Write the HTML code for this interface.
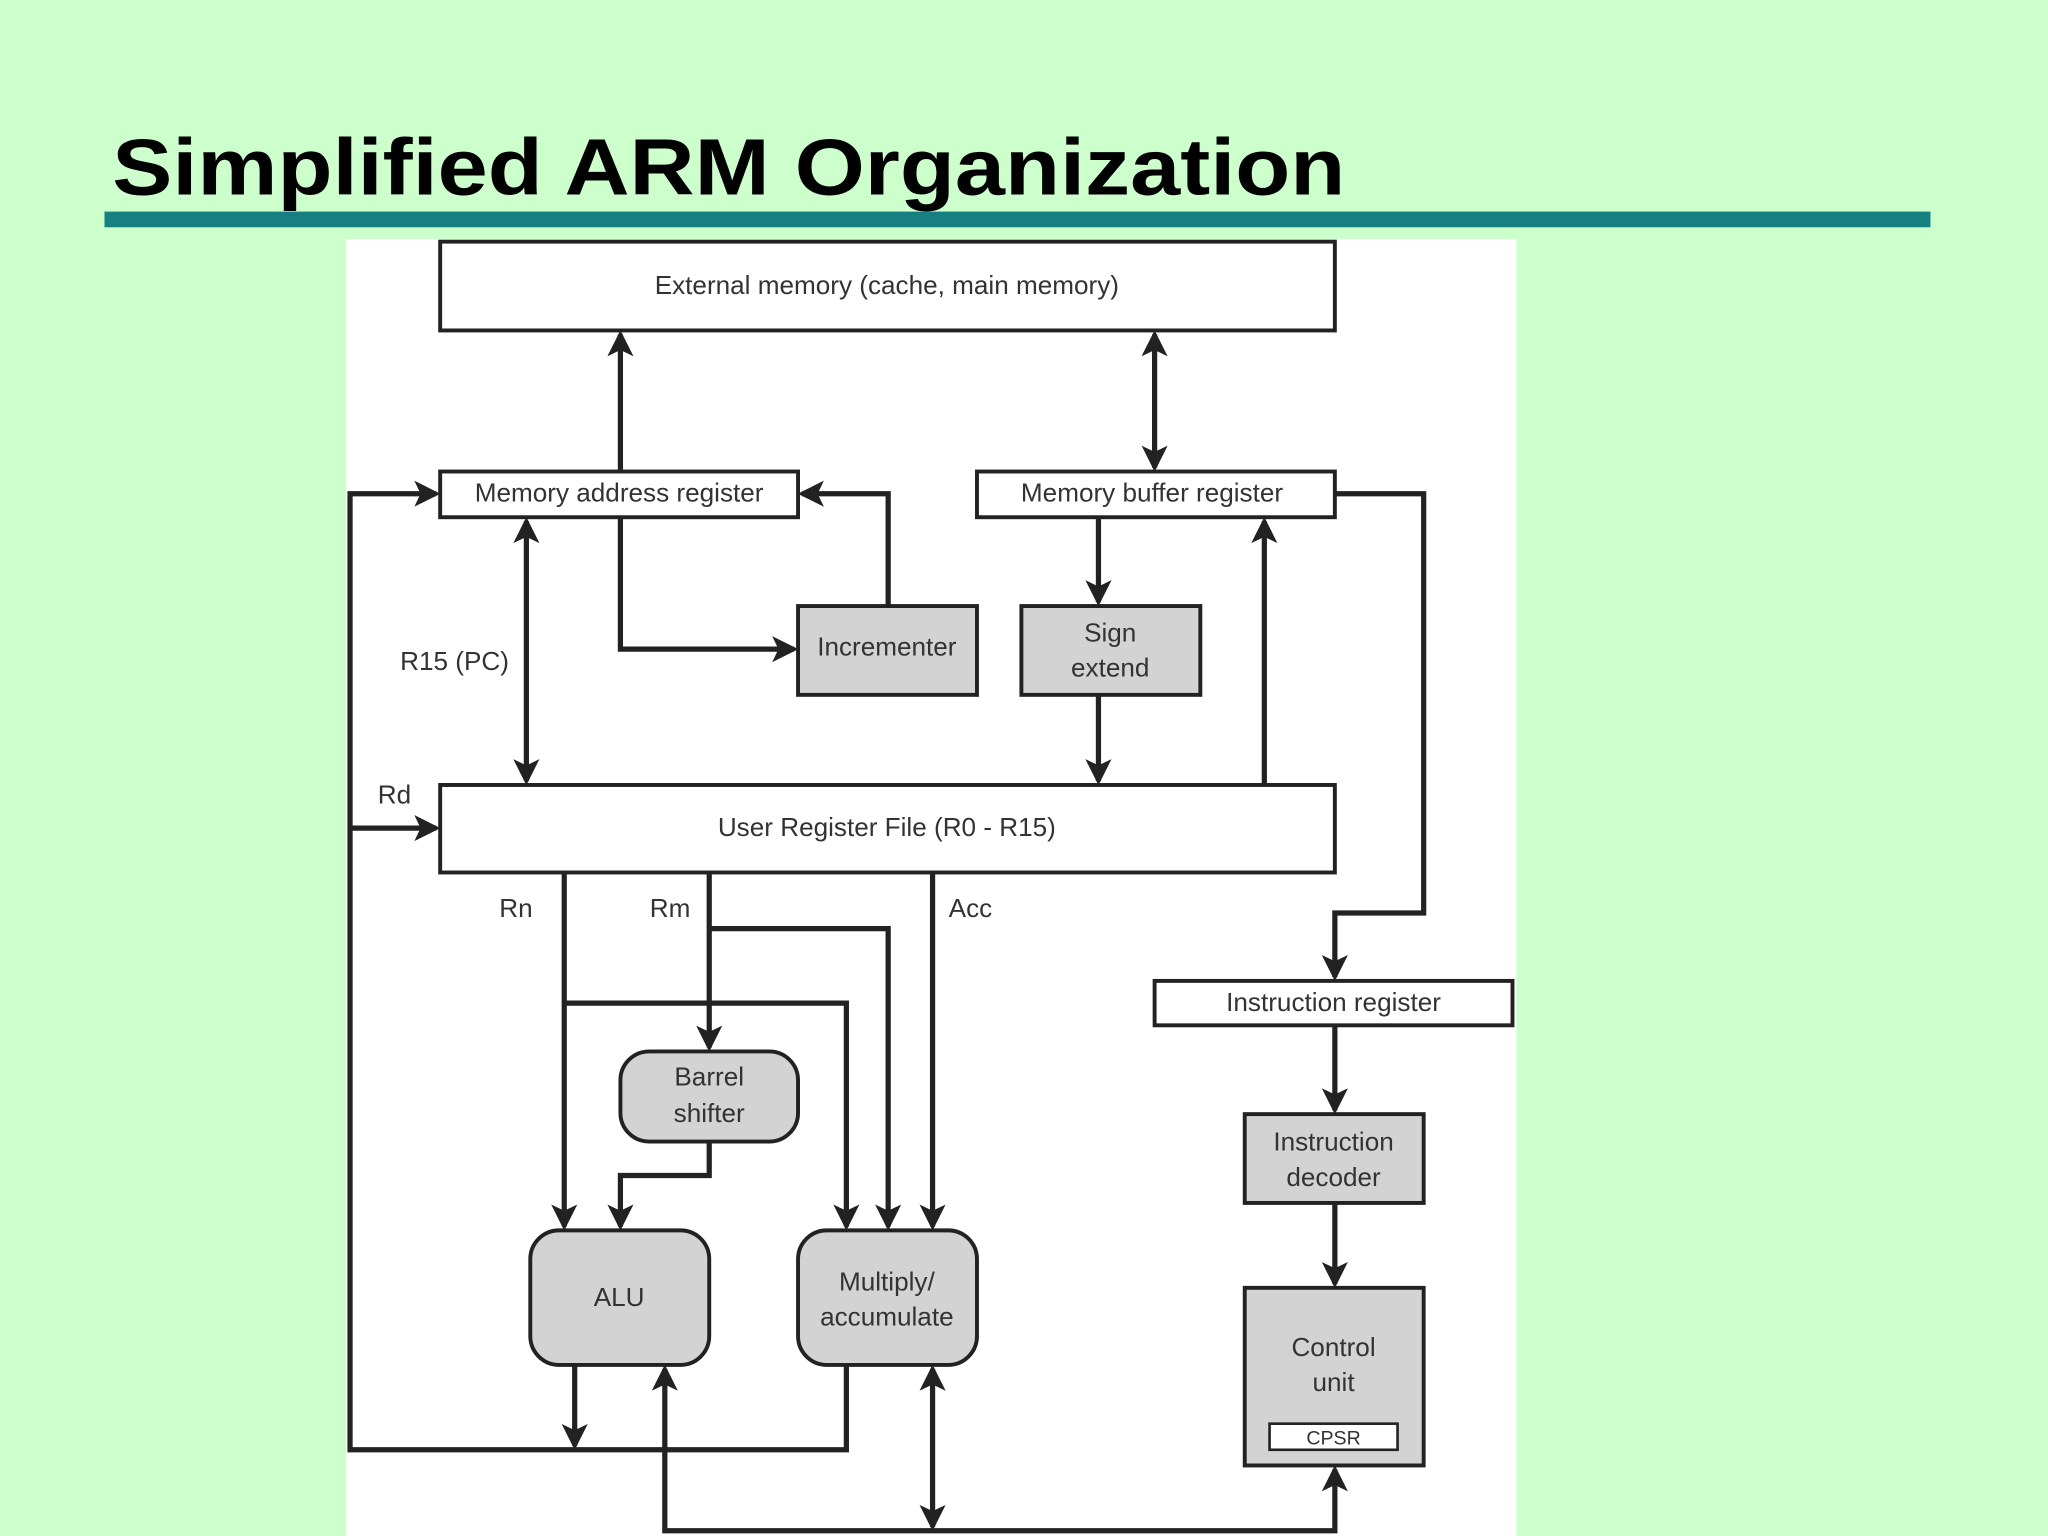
<!DOCTYPE html>
<html><head><meta charset="utf-8"><style>
html,body{margin:0;padding:0;background:#ccffcc;}
svg{display:block;}
</style></head><body>
<svg width="2048" height="1536" viewBox="0 0 1568 1176" xmlns="http://www.w3.org/2000/svg">
<defs>
<marker id="a" markerWidth="5" markerHeight="5" refX="4.2" refY="2.5" orient="auto-start-reverse" markerUnits="strokeWidth">
<path d="M0,0 L5,2.5 L0,5 L1.2,2.5 Z" fill="#222"/>
</marker>
</defs>
<rect width="1568" height="1176" fill="#ccffcc"/>
<text x="86" y="149" font-family="Liberation Sans, sans-serif" font-weight="bold" font-size="61" textLength="944" lengthAdjust="spacingAndGlyphs" fill="#000">Simplified ARM Organization</text>
<rect x="80" y="162" width="1398" height="12" fill="#168080"/>
<rect x="265" y="183" width="896" height="993" fill="#fff"/>
<g stroke="#222" stroke-width="3" font-family="Liberation Sans, sans-serif" font-size="20">
<rect x="337" y="185" width="685" height="68" fill="#fff"/>
<rect x="337" y="361" width="274" height="35" fill="#fff"/>
<rect x="748" y="361" width="274" height="35" fill="#fff"/>
<rect x="611" y="464" width="137" height="68" fill="#d3d3d3"/>
<rect x="782" y="464" width="137" height="68" fill="#d3d3d3"/>
<rect x="337" y="601" width="685" height="67" fill="#fff"/>
<rect x="884" y="751" width="274" height="34" fill="#fff"/>
<rect x="475" y="805" width="136" height="69" rx="22" fill="#d3d3d3"/>
<rect x="406" y="942" width="137" height="103" rx="22" fill="#d3d3d3"/>
<rect x="611" y="942" width="137" height="103" rx="22" fill="#d3d3d3"/>
<rect x="953" y="853" width="137" height="68" fill="#d3d3d3"/>
<rect x="953" y="986" width="137" height="136" fill="#d3d3d3"/>
<rect x="972" y="1090" width="98" height="20" fill="#fff" stroke-width="2"/>
</g>
<g stroke="#222" stroke-width="4" fill="none">
<path d="M475,361 V256" marker-end="url(#a)"/>
<path d="M884,256 V358" marker-start="url(#a)" marker-end="url(#a)"/>
<path d="M475,396 V497 H608" marker-end="url(#a)"/>
<path d="M680,464 V378 H614" marker-end="url(#a)"/>
<path d="M403,399 V598" marker-start="url(#a)" marker-end="url(#a)"/>
<path d="M841,396 V461" marker-end="url(#a)"/>
<path d="M841,532 V598" marker-end="url(#a)"/>
<path d="M968,601 V399" marker-end="url(#a)"/>
<path d="M1022,378 H1090 V699 H1022 V748" marker-end="url(#a)"/>
<path d="M1022,785 V850" marker-end="url(#a)"/>
<path d="M1022,921 V983" marker-end="url(#a)"/>
<path d="M648,1045 V1110 H268 V378 H334" marker-end="url(#a)"/>
<path d="M268,634 H334" marker-end="url(#a)"/>
<path d="M440,1045 V1107" marker-end="url(#a)"/>
<path d="M1022,1125 V1172 H509 V1048" marker-start="url(#a)" marker-end="url(#a)"/>
<path d="M714,1048 V1169" marker-start="url(#a)" marker-end="url(#a)"/>
<path d="M432,668 V939" marker-end="url(#a)"/>
<path d="M432,768 H648 V939" marker-end="url(#a)"/>
<path d="M543,668 V802" marker-end="url(#a)"/>
<path d="M543,711 H680 V939" marker-end="url(#a)"/>
<path d="M714,668 V939" marker-end="url(#a)"/>
<path d="M543,874 V900 H475 V939" marker-end="url(#a)"/>
</g>
<g font-family="Liberation Sans, sans-serif" font-size="20" fill="#333" text-anchor="middle">
<text x="679" y="225">External memory (cache, main memory)</text>
<text x="474" y="384">Memory address register</text>
<text x="882" y="384">Memory buffer register</text>
<text x="679" y="502">Incrementer</text>
<text x="850" y="491">Sign</text>
<text x="850" y="518">extend</text>
<text x="679" y="640">User Register File (R0 - R15)</text>
<text x="1021" y="774">Instruction register</text>
<text x="543" y="831">Barrel</text>
<text x="543" y="859">shifter</text>
<text x="474" y="1000">ALU</text>
<text x="679" y="988">Multiply/</text>
<text x="679" y="1015">accumulate</text>
<text x="1021" y="881">Instruction</text>
<text x="1021" y="908">decoder</text>
<text x="1021" y="1038">Control</text>
<text x="1021" y="1065">unit</text>
<text x="1021" y="1106" font-size="15">CPSR</text>
<text x="348" y="513">R15 (PC)</text>
<text x="302" y="615">Rd</text>
<text x="395" y="702">Rn</text>
<text x="513" y="702">Rm</text>
<text x="743" y="702">Acc</text>
</g>
</svg>
</body></html>
